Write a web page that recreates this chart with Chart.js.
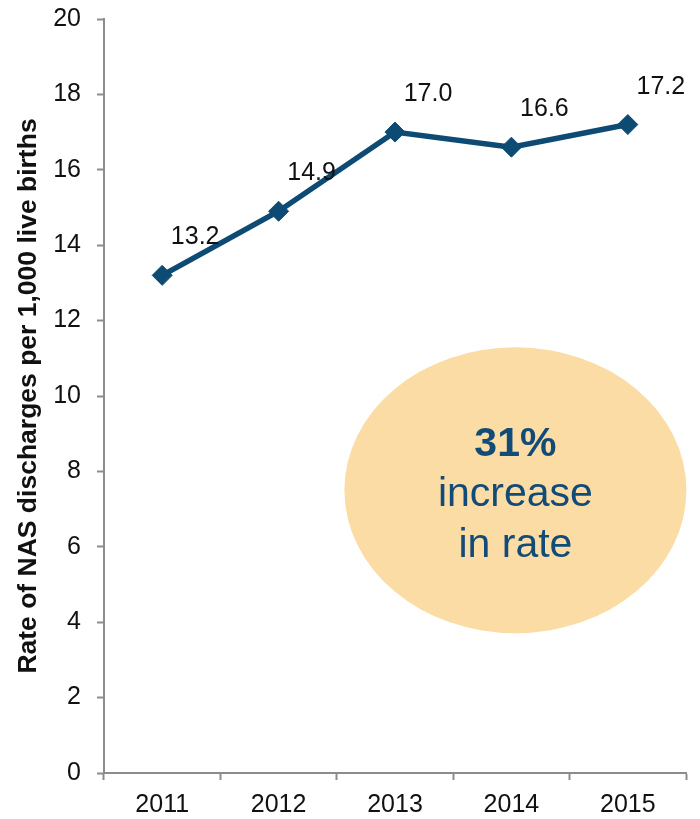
<!DOCTYPE html>
<html>
<head>
<meta charset="utf-8">
<script src="https://cdn.jsdelivr.net/npm/chart.js@4"></script>
<style>
  body { margin: 0; background: #fff; }
  #wrap { width: 700px; height: 819px; }
</style>
</head>
<body>
<div id="wrap"><canvas id="nasChart" width="700" height="819"></canvas></div>
<script>
  const years = ['2011', '2012', '2013', '2014', '2015'];
  const rates = [13.2, 14.9, 17.0, 16.6, 17.2];
  const calloutLines = ['31%', 'increase', 'in rate'];

  const fontFam = '"Liberation Sans", Arial, sans-serif';
  const navy = '#0d4a74';
  const axisGrey = '#8c8c8c';

  // valeurs au-dessus des points
  const valueLabels = {
    id: 'valueLabels',
    afterDatasetsDraw(chart) {
      const ctx = chart.ctx;
      const meta = chart.getDatasetMeta(0);
      ctx.save();
      ctx.font = '25px ' + fontFam;
      ctx.fillStyle = '#111';
      ctx.textAlign = 'center';
      ctx.textBaseline = 'alphabetic';
      meta.data.forEach((pt, i) => {
        ctx.fillText(rates[i].toFixed(1), pt.x + 33, pt.y - 31);
      });
      ctx.restore();
    }
  };

  // bulle "31% increase in rate"
  const callout = {
    id: 'callout',
    afterDatasetsDraw(chart) {
      const ctx = chart.ctx;
      const x = chart.scales.x.getPixelForValue(3) + 4;
      const y = chart.scales.y.getPixelForValue(7.5);
      ctx.save();
      ctx.beginPath();
      ctx.ellipse(x, y, 171, 143, 0, 0, Math.PI * 2);
      ctx.fillStyle = '#fbdca5';
      ctx.fill();
      ctx.fillStyle = '#114b77';
      ctx.textAlign = 'center';
      ctx.textBaseline = 'alphabetic';
      ctx.font = 'bold 41px ' + fontFam;
      ctx.fillText(calloutLines[0], x, y - 34);
      ctx.font = '41px ' + fontFam;
      ctx.fillText(calloutLines[1], x, y + 16);
      ctx.fillText(calloutLines[2], x, y + 67);
      ctx.restore();
    }
  };

  new Chart(document.getElementById('nasChart').getContext('2d'), {
    type: 'line',
    data: {
      labels: years,
      datasets: [{
        label: 'NAS rate',
        data: rates,
        borderColor: navy,
        backgroundColor: navy,
        borderWidth: 5.5,
        pointStyle: 'rectRot',
        pointRadius: 10,
        pointBorderWidth: 1,
        pointBackgroundColor: navy,
        pointBorderColor: navy,
        tension: 0
      }]
    },
    options: {
      responsive: false,
      animation: false,
      layout: { padding: { top: 19, right: 14, left: 0, bottom: 0 } },
      plugins: {
        legend: { display: false },
        tooltip: { enabled: false }
      },
      scales: {
        x: {
          offset: true,
          grid: {
            offset: true,
            drawOnChartArea: false,
            tickLength: 7,
            tickColor: axisGrey,
            tickWidth: 2
          },
          border: { color: axisGrey, width: 2 },
          ticks: {
            color: '#111',
            padding: 10,
            font: { size: 25, family: fontFam }
          },
          afterFit(scale) {
            scale.height = 46;
            scale.paddingLeft = 0;
            scale.paddingRight = 0;
          }
        },
        y: {
          min: 0,
          max: 20,
          ticks: {
            stepSize: 2,
            color: '#111',
            padding: 16,
            font: { size: 25, family: fontFam }
          },
          grid: {
            drawOnChartArea: false,
            tickLength: 7,
            tickColor: axisGrey,
            tickWidth: 2
          },
          border: { color: axisGrey, width: 2 },
          title: {
            display: true,
            text: 'Rate of NAS discharges per 1,000 live births',
            color: '#111',
            font: { size: 26.5, weight: 'bold', family: fontFam },
            padding: { top: 13, bottom: 0 }
          },
          afterFit(scale) {
            scale.width = 104;
            scale.paddingTop = 0;
            scale.paddingBottom = 0;
          }
        }
      }
    },
    plugins: [valueLabels, callout]
  });
</script>
</body>
</html>
